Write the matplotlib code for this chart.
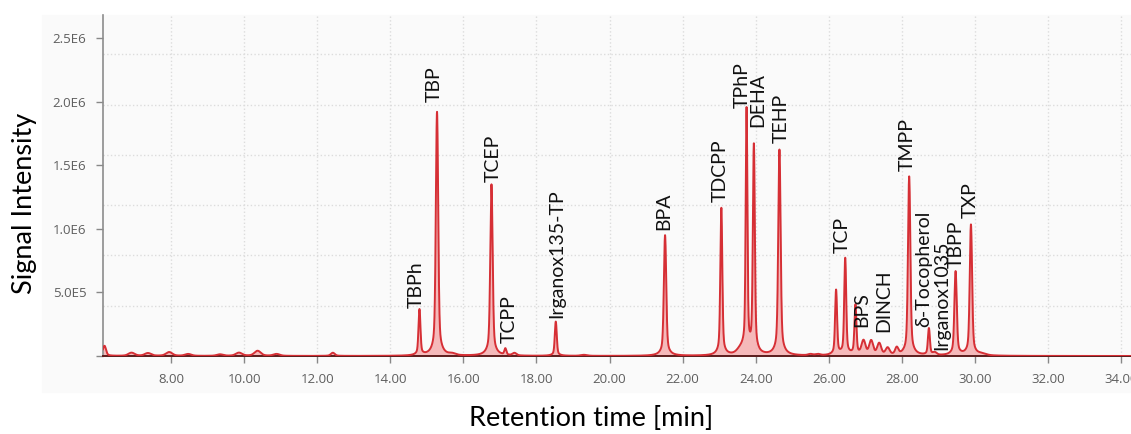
"""GC chromatogram of plastic additives, redrawn with matplotlib."""

import matplotlib.pyplot as plt
import numpy as np
from matplotlib.patches import Rectangle

# retention time (min) and apex intensity of every peak in the trace
peak_rt = [6.18, 6.92, 7.37, 7.95, 8.47, 9.34, 9.86, 10.37, 10.89, 12.43,
           14.80, 15.28, 15.70, 16.77, 17.15, 17.40, 18.53, 19.30, 21.52,
           23.06, 23.60, 23.75, 23.95, 24.65, 25.50, 25.70, 26.20, 26.45,
           26.73, 26.95, 27.16, 27.38, 27.61, 27.86, 28.20, 28.74, 28.90,
           29.47, 29.89, 30.20]
peak_height = [0.08e6, 0.025e6, 0.022e6, 0.03e6, 0.015e6, 0.012e6, 0.025e6,
               0.04e6, 0.015e6, 0.025e6,
               0.36e6, 1.92e6, 0.012e6, 1.35e6, 0.05e6, 0.02e6, 0.27e6,
               0.008e6, 0.95e6,
               1.16e6, 0.04e6, 1.91e6, 1.64e6, 1.62e6, 0.01e6, 0.01e6,
               0.51e6, 0.76e6,
               0.39e6, 0.11e6, 0.11e6, 0.09e6, 0.055e6, 0.055e6, 1.41e6,
               0.21e6, 0.02e6,
               0.66e6, 1.03e6, 0.012e6]
peak_width = [0.04, 0.08, 0.08, 0.08, 0.08, 0.08, 0.08,
              0.08, 0.08, 0.05,
              0.025, 0.03, 0.08, 0.03, 0.025, 0.05, 0.025,
              0.08, 0.03,
              0.025, 0.10, 0.022, 0.025, 0.03, 0.06, 0.06,
              0.025, 0.025,
              0.025, 0.05, 0.05, 0.05, 0.05, 0.04, 0.03, 0.025,
              0.05,
              0.03, 0.03, 0.10]

# compound names and where their vertical labels sit (min, intensity)
compounds = ["TBPh", "TBP", "TCEP", "TCPP", "Irganox135-TP", "BPA", "TDCPP",
             "TPhP", "DEHA", "TEHP", "TCP", "BPS", "DINCH", "TMPP",
             "δ-Tocopherol", "Irganox1035", "TBPP", "TXP"]
label_rt = [14.72, 15.20, 16.82, 17.25, 18.56, 21.49, 23.04,
            23.62, 24.06, 24.69, 26.38, 26.90, 27.51, 28.16,
            28.59, 29.09, 29.50, 29.88]
label_y = [0.378e6, 2.0e6, 1.37e6, 0.10e6, 0.30e6, 0.99e6, 1.21e6,
           1.95e6, 1.80e6, 1.68e6, 0.81e6, 0.23e6, 0.19e6, 1.46e6,
           0.23e6, 0.05e6, 0.69e6, 1.09e6]

y_ticks = [0, 0.5e6, 1.0e6, 1.5e6, 2.0e6, 2.5e6]
y_tick_labels = ["", "5.0E5", "1.0E6", "1.5E6", "2.0E6", "2.5E6"]
x_ticks = np.arange(8, 35, 2)

LINE = "#d62f35"
FILL = "#f4a9ab"
GREY = "#5e5e5e"

# build the trace: each peak is a gaussian core plus a lorentzian skirt
t = np.arange(6.14, 34.4, 0.002)
signal = np.zeros_like(t)
for rt, h, w in zip(peak_rt, peak_height, peak_width):
    core = np.exp(-0.5 * ((t - rt) / w) ** 2)
    skirt = 1.0 / (1.0 + ((t - rt) / (w * 2.5)) ** 2)
    signal += h * (0.8 * core + 0.2 * skirt)

fig = plt.figure(figsize=(11.31, 4.34), dpi=100)
fig.patches.append(Rectangle((42 / 1131, 1 - 392 / 434), 1.0, 377 / 434,
                             transform=fig.transFigure, color="#fafafa",
                             zorder=-5))
ax = fig.add_axes([103 / 1131, 1 - 356 / 434, 1028 / 1131, 341 / 434])
ax.set_facecolor("none")

ax.fill_between(t, 0, signal, color=FILL, alpha=0.8, linewidth=0, zorder=2)
ax.plot(t, signal, color=LINE, linewidth=1.4, zorder=3)

for name, x, y in zip(compounds, label_rt, label_y):
    ax.text(x, y, name, rotation=90, ha="center", va="bottom",
            fontsize=14, family=["Lato", "DejaVu Sans"], color="#111111",
            zorder=4)

ax.set_xlim(6.14, 34.27)
ax.set_ylim(0, 2.685e6)
ax.set_xticks(x_ticks)
ax.set_xticklabels([f"{v:.2f}" for v in x_ticks])
ax.set_yticks(y_ticks)
ax.set_yticklabels(y_tick_labels)
ax.tick_params(colors="#888888", labelcolor=GREY, labelsize=9.5, length=5,
               width=1, pad=7)
for lbl in ax.get_xticklabels() + ax.get_yticklabels():
    lbl.set_family("Open Sans")

# dotted grid: vertical at the time ticks, horizontal on its own spacing
ax.grid(axis="x", color="#dcdcdc", linestyle=":", linewidth=1.0, zorder=0)
for k in range(1, 7):
    ax.axhline(k * 0.396e6, color="#dcdcdc", linestyle=":", linewidth=1.0,
               zorder=0)

for side in ("top", "right"):
    ax.spines[side].set_visible(False)
ax.spines["left"].set_color("#8c8c8c")
ax.spines["left"].set_linewidth(1.2)
ax.spines["bottom"].set_color("#5a1c1c")
ax.spines["bottom"].set_linewidth(1.4)

fig.text(25 / 1131, 1 - 203 / 434, "Signal Intensity", rotation=90,
         ha="center", va="center", fontsize=19.5, family="Lato")
fig.text(591 / 1131, 1 - 418 / 434, "Retention time [min]", ha="center",
         va="center", fontsize=19.5, family="Lato")

fig.savefig("out.png", dpi=100)
